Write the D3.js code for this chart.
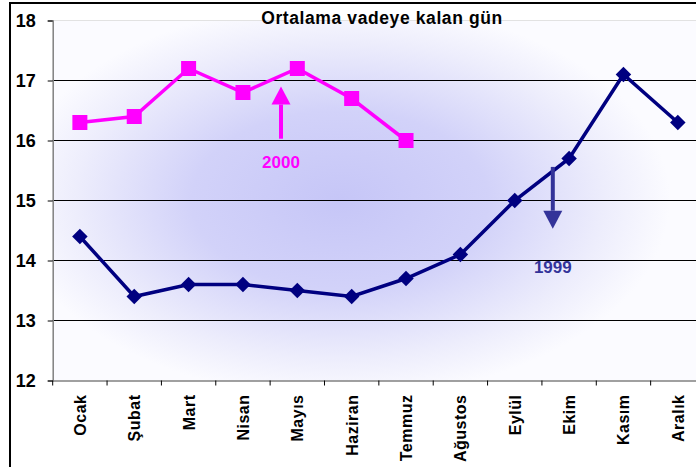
<!DOCTYPE html>
<html>
<head>
<meta charset="utf-8">
<script src="https://cdn.jsdelivr.net/npm/d3@7"></script>
<style>
  body { margin: 0; background: #fff; }
  svg { display: block; font-family: "Liberation Sans", Arial, sans-serif; }
</style>
</head>
<body>
<div id="chart"></div>
<script>
// chart data
var months = ["Ocak", "Şubat", "Mart", "Nisan", "Mayıs", "Haziran", "Temmuz", "Ağustos", "Eylül", "Ekim", "Kasım", "Aralık"];
var values2000 = [16.3, 16.4, 17.2, 16.8, 17.2, 16.7, 16.0];
var values1999 = [14.4, 13.4, 13.6, 13.6, 13.5, 13.4, 13.7, 14.1, 15.0, 15.7, 17.1, 16.3];
var yTicks = [12, 13, 14, 15, 16, 17, 18];
var title = "Ortalama vadeye kalan gün";

// annotation arrows (month position, from, to)
var arrow2000 = { pos: 3.7, from: 16.03, to: 16.9, label: "2000", labelY: 15.55 };
var arrow1999 = { pos: 8.7, from: 15.56, to: 14.53, label: "1999", labelY: 13.8 };

var width = 696, height = 467;
var plotL = 52.7, plotR = 705, plotT = 20.5, plotB = 380.5;

var svg = d3.select("#chart").append("svg")
  .attr("width", width)
  .attr("height", height);

// soft blue-violet glow behind the plot
var defs = svg.append("defs");
var grad = defs.append("radialGradient")
  .attr("id", "bg")
  .attr("gradientUnits", "userSpaceOnUse")
  .attr("cx", 340).attr("cy", 200).attr("r", 330)
  .attr("gradientTransform", "translate(340,200) scale(1,0.6) translate(-340,-200)");
grad.append("stop").attr("offset", "0%").attr("stop-color", "#c6c6f7");
grad.append("stop").attr("offset", "45%").attr("stop-color", "#d2d2f9");
grad.append("stop").attr("offset", "80%").attr("stop-color", "#ededfc");
grad.append("stop").attr("offset", "100%").attr("stop-color", "#fbfbff");

var x = d3.scaleBand().domain(months).range([plotL, plotR]).padding(0);
var y = d3.scaleLinear().domain([12, 18]).range([plotB, plotT]);
var cx = function(i) { return plotL + (i + 0.5) * x.step(); };

// outer frame
svg.append("rect")
  .attr("x", 10).attr("y", 3)
  .attr("width", 720).attr("height", 500)
  .attr("fill", "#fff")
  .attr("stroke", "#000")
  .attr("stroke-width", 2);

// plot area
svg.append("rect")
  .attr("x", plotL).attr("y", plotT)
  .attr("width", plotR - plotL).attr("height", plotB - plotT)
  .attr("fill", "url(#bg)");

// gridlines
svg.append("g")
  .selectAll("line")
  .data(yTicks.filter(function(d){ return d > 12; }))
  .enter()
  .append("line")
  .attr("x1", plotL).attr("x2", plotR)
  .attr("y1", function(d){ return y(d); })
  .attr("y2", function(d){ return y(d); })
  .attr("stroke", function(d){ return d == 18 ? "#e2e2e2" : "#000"; })
  .attr("stroke-width", 1);

// y axis
var yAxis = svg.append("g")
  .attr("transform", "translate(" + plotL + ",0)")
  .call(d3.axisLeft(y).tickValues(yTicks).tickSize(5).tickPadding(12).tickFormat(d3.format("d")));
yAxis.select(".domain").attr("stroke", "#808080").attr("stroke-width", 1.5);
yAxis.selectAll(".tick line").attr("stroke", "#000");
yAxis.selectAll("text")
  .attr("font-size", 18)
  .attr("font-weight", "bold")
  .attr("font-family", "Liberation Sans, Arial, sans-serif")
  .attr("fill", "#000");

// x axis
var xAxis = svg.append("g")
  .attr("transform", "translate(0," + plotB + ")")
  .call(d3.axisBottom(x).tickSize(0).tickPadding(0));
xAxis.select(".domain").attr("stroke", "#808080").attr("stroke-width", 1.5);
xAxis.selectAll("text")
  .attr("font-size", 16)
  .attr("font-weight", "bold")
  .attr("font-family", "Liberation Sans, Arial, sans-serif")
  .attr("letter-spacing", 0.5)
  .attr("fill", "#000")
  .attr("text-anchor", "end")
  .attr("dy", null)
  .attr("y", 0)
  .attr("transform", "translate(6,14) rotate(-90)");
// ticks between categories
xAxis.selectAll(".sep")
  .data(d3.range(months.length + 1))
  .enter()
  .append("line")
  .attr("x1", function(i){ return plotL + i * x.step(); })
  .attr("x2", function(i){ return plotL + i * x.step(); })
  .attr("y1", 0).attr("y2", 5)
  .attr("stroke", "#000");

// lines
var line = d3.line()
  .x(function(d, i){ return cx(i); })
  .y(function(d){ return y(d); });

svg.append("path")
  .datum(values1999)
  .attr("d", line)
  .attr("fill", "none")
  .attr("stroke", "#000080")
  .attr("stroke-width", 3.5);

svg.append("g")
  .selectAll("path")
  .data(values1999)
  .enter()
  .append("path")
  .attr("d", d3.symbol().type(d3.symbolSquare).size(120))
  .attr("transform", function(d, i){ return "translate(" + cx(i) + "," + y(d) + ") rotate(45)"; })
  .attr("fill", "#000080");

svg.append("path")
  .datum(values2000)
  .attr("d", line)
  .attr("fill", "none")
  .attr("stroke", "#ff00ff")
  .attr("stroke-width", 3.5);

svg.append("g")
  .selectAll("rect")
  .data(values2000)
  .enter()
  .append("rect")
  .attr("x", function(d, i){ return cx(i) - 7.5; })
  .attr("y", function(d){ return y(d) - 7.5; })
  .attr("width", 15).attr("height", 15)
  .attr("fill", "#ff00ff");

// arrows
function drawArrow(a, color) {
  var ax = cx(a.pos);
  var y0 = y(a.from), y1 = y(a.to);
  var dir = y1 < y0 ? 1 : -1;
  var headLen = 18, headW = 9.5;
  svg.append("line")
    .attr("x1", ax).attr("x2", ax)
    .attr("y1", y0).attr("y2", y1 + dir * headLen)
    .attr("stroke", color)
    .attr("stroke-width", 4);
  svg.append("path")
    .attr("d", "M" + ax + "," + y1 + "L" + (ax - headW) + "," + (y1 + dir * headLen) + "L" + (ax + headW) + "," + (y1 + dir * headLen) + "Z")
    .attr("fill", color);
  svg.append("text")
    .attr("x", ax)
    .attr("y", y(a.labelY))
    .attr("text-anchor", "middle")
    .attr("font-size", 17)
    .attr("font-weight", "bold")
    .attr("fill", color)
    .text(a.label);
}
drawArrow(arrow2000, "#ff00ff");
drawArrow(arrow1999, "#333399");

// title
svg.append("text")
  .attr("x", 382)
  .attr("y", 24)
  .attr("text-anchor", "middle")
  .attr("font-size", 17.5)
  .attr("font-weight", "bold")
  .attr("letter-spacing", 0.6)
  .attr("fill", "#000")
  .text(title);
</script>
</body>
</html>
